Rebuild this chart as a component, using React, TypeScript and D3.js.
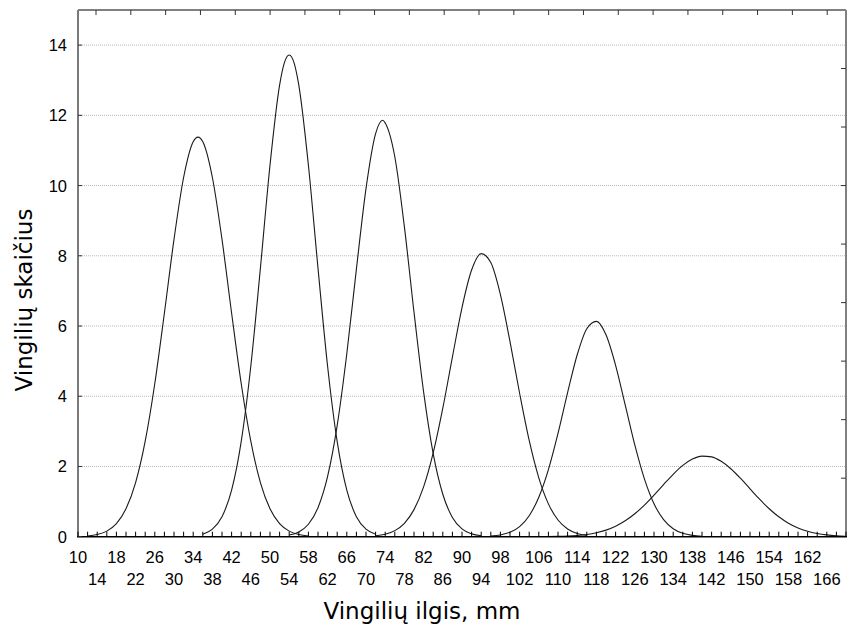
import React from "react";
import * as d3 from "d3";

// Axis ticks / labels
const yTicks = [0, 2, 4, 6, 8, 10, 12, 14];
const xLabelsTop = [10, 18, 26, 34, 42, 50, 58, 66, 74, 82, 90, 98, 106, 114, 122, 130, 138, 146, 154, 162];
const xLabelsBottom = [14, 22, 30, 38, 46, 54, 62, 70, 78, 86, 94, 102, 110, 118, 126, 134, 142, 150, 158, 166];
const xMinorTicks = d3.range(10, 171, 2);

// Curve 1 (peak ~35 mm)
const c1X = [12, 14, 16, 18, 20, 22, 24, 26, 28, 30, 32, 34, 35, 36, 38, 40, 42, 44, 46, 48, 50, 52, 54, 56, 58];
const c1Y = [0.022, 0.062, 0.159, 0.372, 0.794, 1.54, 2.719, 4.363, 6.37, 8.466, 10.23, 11.25, 11.38, 11.25, 10.23, 8.466, 6.37, 4.363, 2.719, 1.54, 0.794, 0.372, 0.159, 0.062, 0.022];
// Curve 2 (peak ~54 mm)
const c2X = [36, 38, 40, 42, 44, 46, 48, 50, 52, 53, 54, 55, 56, 58, 60, 62, 64, 66, 68, 70, 72];
const c2Y = [0.071, 0.215, 0.569, 1.324, 2.707, 4.854, 7.648, 10.58, 12.86, 13.5, 13.72, 13.5, 12.86, 10.58, 7.648, 4.854, 2.707, 1.324, 0.569, 0.215, 0.071];
// Curve 3 (peak ~73.5 mm)
const c3X = [54, 56, 58, 60, 62, 64, 66, 68, 70, 72, 73.5, 74, 76, 78, 80, 82, 84, 86, 88, 90, 92, 94];
const c3Y = [0.046, 0.135, 0.354, 0.826, 1.716, 3.171, 5.211, 7.621, 9.915, 11.48, 11.86, 11.78, 10.82, 8.822, 6.395, 4.125, 2.366, 1.208, 0.548, 0.222, 0.08, 0.025];
// Curve 4 (peak ~94 mm)
const c4X = [72, 74, 76, 78, 80, 82, 84, 86, 88, 90, 92, 94, 96, 98, 100, 102, 104, 106, 108, 110, 112, 114, 116];
const c4Y = [0.027, 0.071, 0.173, 0.382, 0.771, 1.42, 2.387, 3.659, 5.116, 6.526, 7.595, 8.062, 7.806, 6.896, 5.558, 4.086, 2.74, 1.676, 0.935, 0.476, 0.221, 0.094, 0.036];
// Curve 5 (peak ~118 mm)
const c5X = [96, 98, 100, 102, 104, 106, 108, 110, 112, 114, 116, 118, 120, 122, 124, 126, 128, 130, 132, 134, 136, 138, 140];
const c5Y = [0.018, 0.05, 0.126, 0.288, 0.598, 1.124, 1.911, 2.942, 4.103, 5.181, 5.924, 6.133, 5.75, 4.881, 3.753, 2.612, 1.647, 0.939, 0.486, 0.227, 0.096, 0.037, 0.013];
// Curve 6 (peak ~141 mm)
const c6X = [108, 110, 112, 114, 116, 118, 120, 122, 124, 126, 128, 130, 132, 134, 136, 138, 140, 142, 144, 146, 148, 150, 152, 154, 156, 158, 160, 162, 164, 166, 168, 170];
const c6Y = [0.004, 0.009, 0.018, 0.035, 0.064, 0.113, 0.187, 0.298, 0.452, 0.653, 0.9, 1.184, 1.486, 1.778, 2.03, 2.21, 2.295, 2.274, 2.148, 1.936, 1.665, 1.365, 1.067, 0.796, 0.567, 0.385, 0.249, 0.154, 0.091, 0.051, 0.027, 0.014];

const curveXs = [c1X, c2X, c3X, c4X, c5X, c6X];
const curveYs = [c1Y, c2Y, c3Y, c4Y, c5Y, c6Y];

const W = 851;
const H = 631;
const L = 78;
const R = 846;
const T = 10;
const B = 536.7;

export default function App() {
  const x = d3.scaleLinear().domain([10, 170]).range([L, R]);
  const y = d3.scaleLinear().domain([0, 15]).range([B, T]);
  // secondary frame scales (top and right tick marks)
  const xTop = d3.scaleLinear().domain([0, 21]).range([96, 827.2]);
  const yRight = d3.scaleLinear().domain([0, 9]).range([B, T]);

  const line = d3
    .line<[number, number]>()
    .x((d) => x(d[0]))
    .y((d) => y(d[1]))
    .curve(d3.curveMonotoneX);

  const tickFont = "'Liberation Sans', Arial, sans-serif";
  const titleFont = "'DejaVu Sans', Verdana, sans-serif";

  return (
    <svg
      width={W}
      height={H}
      style={{ position: "absolute", left: 0, top: 0, background: "#fff", display: "block" }}
    >
      <rect x={0} y={0} width={W} height={H} fill="#fff" />
      {/* gridlines */}
      {yTicks
        .filter((t) => t > 0)
        .map((t) => (
          <line
            key={"g" + t}
            x1={L}
            x2={R}
            y1={y(t)}
            y2={y(t)}
            stroke="#b8b8b8"
            strokeWidth={1}
            strokeDasharray="1,1"
          />
        ))}
      {/* curves */}
      {curveXs.map((xs, i) => (
        <path
          key={"c" + i}
          d={line(xs.map((v, j) => [v, curveYs[i][j]]) as [number, number][]) || ""}
          fill="none"
          stroke="#1a1a1a"
          strokeWidth={1.1}
        />
      ))}
      {/* frame */}
      <line x1={L} x2={R} y1={T} y2={T} stroke="#808080" strokeWidth={2} />
      <line x1={R} x2={R} y1={T} y2={B} stroke="#808080" strokeWidth={2} />
      <line x1={L} x2={L} y1={T} y2={B} stroke="#7a7a7a" strokeWidth={2} />
      <line x1={L - 1} x2={R + 1} y1={B} y2={B} stroke="#000" strokeWidth={1.6} />
      {/* top ticks */}
      {d3.range(0, 22).map((t) => (
        <line key={"tt" + t} x1={xTop(t)} x2={xTop(t)} y1={T} y2={T + 5} stroke="#333" strokeWidth={1} />
      ))}
      {/* right ticks */}
      {d3.range(1, 9).map((t) => (
        <line key={"rt" + t} x1={R - 5} x2={R} y1={yRight(t)} y2={yRight(t)} stroke="#333" strokeWidth={1} />
      ))}
      {/* bottom minor ticks */}
      {xMinorTicks.map((t) => (
        <line key={"bt" + t} x1={x(t)} x2={x(t)} y1={B} y2={B - 5} stroke="#000" strokeWidth={1} />
      ))}
      {/* left ticks */}
      {yTicks.map((t) => (
        <line key={"lt" + t} x1={L} x2={L + 4} y1={y(t)} y2={y(t)} stroke="#333" strokeWidth={1} />
      ))}
      {/* y tick labels */}
      {yTicks.map((t) => (
        <text
          key={"yl" + t}
          x={L - 11}
          y={y(t) + 6}
          textAnchor="end"
          fontFamily={tickFont}
          fontSize={16.5}
          fill="#000"
        >
          {t}
        </text>
      ))}
      {/* x tick labels */}
      {xLabelsTop.map((t) => (
        <text key={"xt" + t} x={x(t)} y={563} textAnchor="middle" fontFamily={tickFont} fontSize={16.5} fill="#000">
          {t}
        </text>
      ))}
      {xLabelsBottom.map((t) => (
        <text key={"xb" + t} x={x(t)} y={585} textAnchor="middle" fontFamily={tickFont} fontSize={16.5} fill="#000">
          {t}
        </text>
      ))}
      {/* axis titles */}
      <text x={422} y={619} textAnchor="middle" fontFamily={titleFont} fontSize={23} fill="#000">
        Vingilių ilgis, mm
      </text>
      <text
        transform={`translate(32, 300) rotate(-90)`}
        textAnchor="middle"
        fontFamily={titleFont}
        fontSize={23}
        fill="#000"
      >
        Vingilių skaičius
      </text>
    </svg>
  );
}
